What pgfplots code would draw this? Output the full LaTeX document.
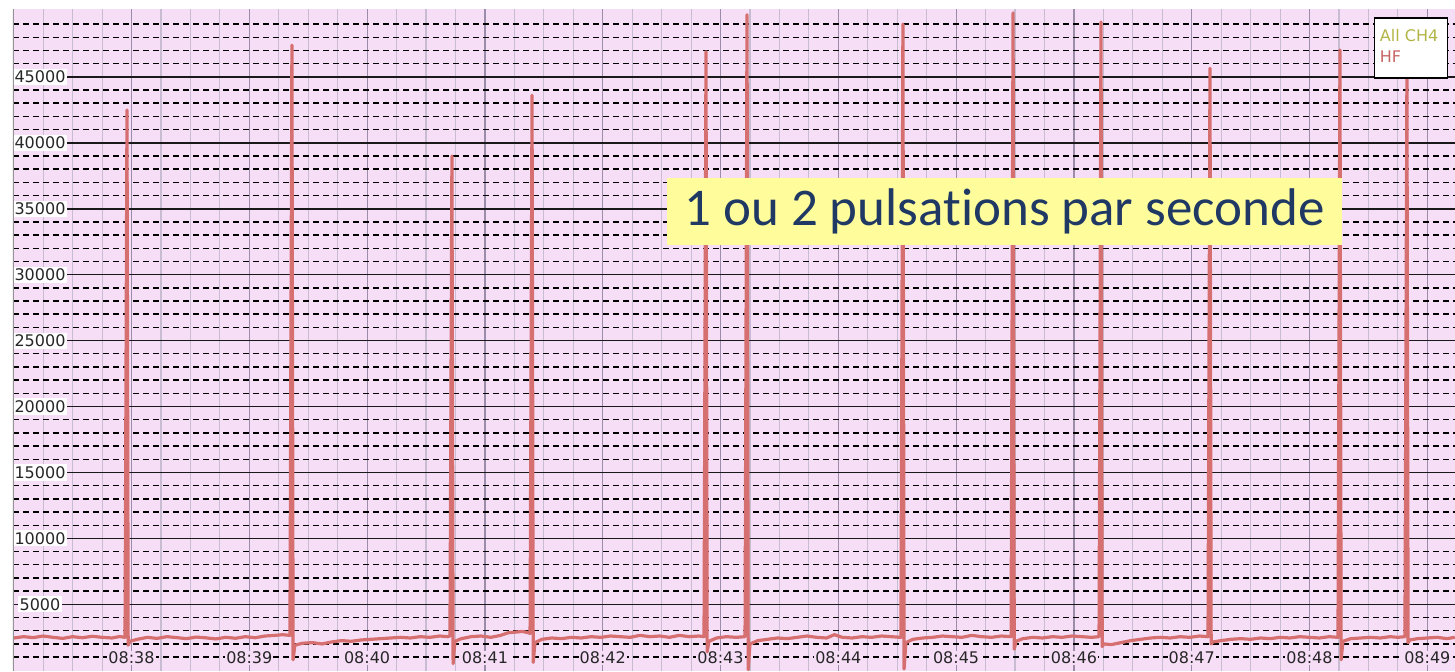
\documentclass[border=0pt]{standalone}
\usepackage{fontspec}
\setmainfont{DejaVu Sans}
\newfontfamily\calibri[Ligatures=NoCommon]{Carlito}
\usepackage{pgfplots}
\pgfplotsset{compat=1.18}
\definecolor{bgpink}{RGB}{247,222,247}
\definecolor{minorv}{RGB}{200,188,210}
\definecolor{majorv}{RGB}{155,140,170}
\definecolor{hf}{RGB}{214,112,112}
\definecolor{ch4}{RGB}{178,180,70}
\definecolor{hflab}{RGB}{200,100,100}
\definecolor{annoy}{RGB}{255,253,155}
\definecolor{annot}{RGB}{31,56,100}
\begin{document}
\begin{tikzpicture}
\path[use as bounding box] (0,0) rectangle (727.5pt,335.5pt);
\begin{axis}[
  at={(6.5pt,0pt)}, anchor=south west,
  scale only axis, width=721pt, height=331pt,
  xmin=-60.36, xmax=674.1, ymin=-53, ymax=50140,
  axis background/.style={fill=bgpink},
  axis line style={draw=none},
  xtick={0,60,120,180,240,300,360,420,480,540,600,660},
  xticklabels={08:38,08:39,08:40,08:41,08:42,08:43,08:44,08:45,08:46,08:47,08:48,08:49},
  minor xtick={-45,-30,-15,15,30,45,75,90,105,135,150,165,195,210,225,255,270,285,315,330,345,375,390,405,435,450,465,495,510,525,555,570,585,615,630,645,675},
  ytick={5000,10000,15000,20000,25000,30000,35000,40000,45000},
  minor ytick={1000,2000,3000,4000,6000,7000,8000,9000,11000,12000,13000,14000,16000,17000,18000,19000,21000,22000,23000,24000,26000,27000,28000,29000,31000,32000,33000,34000,36000,37000,38000,39000,41000,42000,43000,44000,46000,47000,48000,49000},
  grid=both,
  major x grid style={majorv, line width=0.6pt},
  minor x grid style={minorv, line width=0.55pt},
  major y grid style={black!90, line width=0.85pt},
  minor y grid style={black, line width=0.7pt, dash pattern=on 3pt off 2pt},
  major tick length=0pt, minor tick length=0pt,
  tick label style={font=\fontsize{8}{9}\selectfont, text=black!85},
  yticklabel style={anchor=center, xshift=13.5pt, fill=white, inner sep=1pt},
  xticklabel style={anchor=center, yshift=6.5pt, fill=bgpink, inner sep=0.5pt},
  scaled y ticks=false,
  /pgf/number format/1000 sep={},
  /pgf/number format/assume math mode=true,
]
\addplot[hf, line width=1.6pt, line join=round, no marks] table {
t v
-60 2450
-55 2550
-50 2480
-45 2600
-40 2500
-35 2420
-30 2550
-25 2470
-20 2580
-15 2500
-10 2450
-6 2560
-3.3 2500
-2.3 42480
-1.7 1900
-0.8 2200
3 2350
8 2500
13 2420
18 2550
23 2480
28 2400
33 2520
38 2460
43 2380
48 2500
53 2430
58 2550
63 2470
68 2600
73 2650
77 2700
80.7 2650
81.7 47400
82.3 800
83.2 1900
87 2050
92 2100
97 2000
102 2150
107 2250
112 2200
117 2300
122 2350
127 2400
132 2450
137 2500
142 2450
147 2550
152 2500
157 2600
161 2550
162.2 2600
163.2 39000
163.8 500
164.7 2200
168 2400
173 2550
178 2600
183 2500
188 2650
192 2850
196 2900
199 2950
202 2850
203 2800
204.0 43600
204.6 600
205.5 2100
209 2350
214 2450
219 2400
224 2500
229 2450
234 2550
239 2500
244 2600
249 2550
254 2500
259 2650
264 2550
269 2600
274 2500
279 2650
284 2550
289 2600
291.6 2550
292.6 46900
293.2 1400
294.1 2200
298 2450
303 2550
308 2500
312.5 2550
313.5 49700
314.1 50
315 2000
319 2250
324 2350
329 2450
334 2400
339 2500
344 2600
349 2500
354 2450
358 2700
362 2500
367 2450
372 2550
377 2500
382 2600
387 2550
391.9 2500
392.9 49000
393.5 100
394.4 2100
398 2350
403 2450
408 2500
413 2600
418 2550
423 2500
428 2650
433 2550
438 2500
443 2600
448 2550
449.0 49850
449.6 1600
450.5 2200
454 2400
459 2500
464 2450
469 2550
474 2500
479 2600
484 2550
489 2500
492.8 2550
493.8 49150
494.4 1800
495.3 2000
499 1950
504 2100
509 2250
514 2350
519 2450
524 2500
529 2450
534 2550
539 2500
544 2600
548.3 2550
549.3 45650
549.9 2000
550.8 2150
555 2250
560 2350
565 2400
570 2350
575 2450
580 2400
585 2500
590 2450
595 2550
600 2500
605 2450
610 2550
614.5 2500
615.5 47030
616.1 800
617 2200
621 2400
626 2450
631 2500
636 2450
641 2550
645 2500
648.6 2550
649.6 45130
650.2 2100
651.1 2300
655 2400
660 2450
665 2500
670 2400
674 2500
};
\draw[gray!85, line width=1.5pt] (rel axis cs:0,0) -- (rel axis cs:0,1);
\node[fill=annoy, minimum width=337.5pt, minimum height=33.5pt, inner sep=0pt,
      font=\calibri\fontsize{26.5}{30}\selectfont, text=annot]
      at (axis cs:444.7,34784) {1 ou 2 pulsations par seconde};
\node[draw=black, line width=0.75pt, fill=white, anchor=north east,
      minimum width=36.5pt, minimum height=30pt, inner sep=0pt] (leg)
      at (rel axis cs:0.99515,0.9879) {};
\node[anchor=west, inner sep=0pt, font=\fontsize{8}{9}\selectfont, text=ch4]
      at ([xshift=3pt,yshift=-9.5pt]leg.north west) {All CH4};
\node[anchor=west, inner sep=0pt, font=\fontsize{8}{9}\selectfont, text=hflab]
      at ([xshift=3pt,yshift=-20pt]leg.north west) {HF};
\end{axis}
\end{tikzpicture}
\end{document}
